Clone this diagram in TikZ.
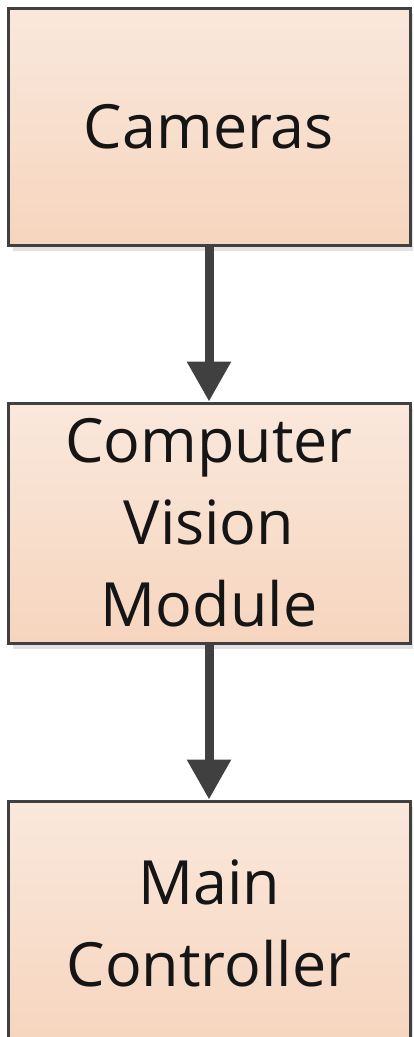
\documentclass[tikz,border=0pt]{standalone}
\usepackage{fontspec}
\setmainfont{Open Sans}
\usetikzlibrary{arrows.meta,shadows}
\definecolor{edge}{HTML}{404040}
\definecolor{topfill}{HTML}{FAE8DC}
\definecolor{botfill}{HTML}{F6D5BE}
\definecolor{shadowgray}{HTML}{E2E2E2}
\definecolor{txt}{HTML}{151515}
\tikzset{
  blockbox/.style={draw=edge, line width=3pt, top color=topfill, bottom color=botfill,
    minimum width=402pt, inner sep=0pt, align=center, text=txt,
    font=\fontsize{61}{82}\selectfont,
    drop shadow={shadow xshift=5pt, shadow yshift=-6pt, fill=shadowgray, opacity=1}},
  flow/.style={draw=edge, line width=9pt, -{Triangle[width=42pt,length=40pt]}, shorten <=-1pt}
}
\begin{document}
\begin{tikzpicture}[x=1pt,y=-1pt]
\useasboundingbox (0,0) rectangle (413,1037);
\clip (0,0) rectangle (413,1037);
\node[blockbox, minimum height=237pt] (cam) at (209,126.5) {Cameras};
\node[blockbox, minimum height=240pt] (cv) at (209,523) {Computer\\Vision\\Module};
\node[blockbox, minimum height=244pt] (mc) at (209,923) {Main\\Controller};
\draw[flow] (cam.south) -- (cv.north);
\draw[flow] (cv.south) -- (mc.north);
\end{tikzpicture}
\end{document}
